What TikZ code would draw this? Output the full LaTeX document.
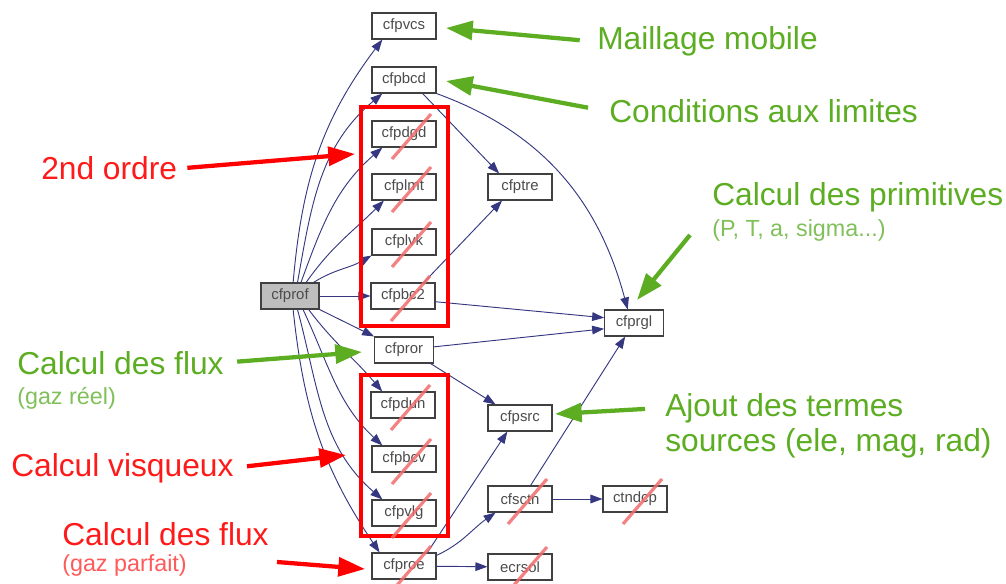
\documentclass[tikz,border=0pt]{standalone}
\usepackage{fontspec}
\setmainfont{Liberation Sans}
\usetikzlibrary{arrows.meta}
\definecolor{marine}{HTML}{1E2272}
\definecolor{vert}{HTML}{5CAD22}
\definecolor{vertclair}{HTML}{80C05A}
\definecolor{rouge}{HTML}{FF1A1A}
\definecolor{rougeclair}{HTML}{FF5A5A}
\definecolor{rayure}{HTML}{F36C6C}
\definecolor{grisfond}{HTML}{BEBEBE}
\newcommand{\barrer}[1]{\draw[rayure,line width=2.4pt,opacity=.85] ([shift={(-12,25)}]#1.center)--([shift={(27,-20)}]#1.center);}

\begin{document}
\begin{tikzpicture}[x=.75pt,y=-.75pt,>={Triangle[length=9pt,width=6.5pt]},
  boite/.style={draw=black!75,line width=.8pt,fill=white,text=black!70,font=\fontsize{11.2}{12}\selectfont,minimum width=48pt,minimum height=19.5pt,inner sep=2pt},
  lien/.style={marine!90,line width=.7pt,->},
  titre/.style={anchor=base west,inner sep=0pt,font=\fontsize{23.8}{28}\selectfont},
  soustitre/.style={anchor=base west,inner sep=0pt,font=\fontsize{17.5}{21}\selectfont},
  fleche/.style={line width=3.2pt,-{Triangle[length=20pt,width=14pt]}}]
 \useasboundingbox (0,0) rectangle (1006,584);
 \node[boite,fill=grisfond,minimum width=43.5pt] (cfprof) at (290,296) {cfprof};
 \node[boite] (cfpvcs) at (404,26) {cfpvcs};
 \node[boite] (cfpbcd) at (404,80) {cfpbcd};
 \node[boite] (cfpdgd) at (404,134) {cfpdgd};
 \node[boite] (cfplmt) at (404,187) {cfplmt};
 \node[boite] (cfplvk) at (404,242) {cfplvk};
 \node[boite] (cfpbc2) at (403,296) {cfpbc2};
 \node[boite,minimum width=44pt] (cfpror) at (404,350) {cfpror};
 \node[boite] (cfpdun) at (403,405) {cfpdun};
 \node[boite] (cfpbcv) at (404,459) {cfpbcv};
 \node[boite] (cfpvlg) at (404,513) {cfpvlg};
 \node[boite] (cfproe) at (404,566) {cfproe};
 \node[boite] (cfptre) at (520,187) {cfptre};
 \node[boite] (cfpsrc) at (520,418) {cfpsrc};
 \node[boite] (cfsctn) at (520,499) {cfsctn};
 \node[boite] (ecrsol) at (520,567) {ecrsol};
 \node[boite,minimum width=44pt] (cfprgl) at (634,323) {cfprgl};
 \node[boite] (ctndcp) at (635,499) {ctndcp};
 % appels
 \draw[lien] (cfprof.77) to[out=85,in=233] (cfpvcs.212);
 \draw[lien] (cfprof.61) to[out=80,in=220] (cfpbcd.212);
 \draw[lien] (cfprof.51) to[out=70,in=221] (cfpdgd.212);
 \draw[lien] (cfprof.40) to[out=55,in=225] (cfplmt.214);
 \draw[lien] (cfprof.30) to[out=32,in=210] (cfplvk.south west);
 \draw[lien] (cfprof) -- (cfpbc2);
 \draw[lien] (cfprof.south east) -- (cfpror.north west);
 \draw[lien] (cfprof.-36) to[out=-53,in=130] (cfpdun.147);
 \draw[lien] (cfprof.-46) to[out=-65,in=137] (cfpbcv.148);
 \draw[lien] (cfprof.-61) to[out=-75,in=139] (cfpvlg.148);
 \draw[lien] (cfprof.-77) to[out=-84,in=124] (cfproe.151);
 \draw[lien] (cfpbcd.324) -- (cfptre.147);
 \draw[lien] (cfpbcd.south east) to[out=-20,in=105] (cfprgl.115);
 \draw[lien] (cfpbc2.33) -- (cfptre.217);
 \draw[lien] (cfpbc2.-10) -- (cfprgl.170);
 \draw[lien] (cfpror.6) -- (cfprgl.191);
 \draw[lien] (cfpror.333) -- (cfpsrc.151);
 \draw[lien] (cfproe.30) -- (cfpsrc.227);
 \draw[lien] (cfproe.18) to[out=25,in=215] (cfsctn.209);
 \draw[lien] (cfproe) -- (ecrsol);
 \draw[lien] (cfsctn.52) -- (cfprgl.237);
 \draw[lien] (cfsctn) -- (ctndcp);
 % cadres et routines barrees
 \draw[red,line width=3pt] (361,107) rectangle (448,326);
 \draw[red,line width=3pt] (361,375) rectangle (448,536);
 \foreach \n in {cfpdgd,cfplmt,cfplvk,cfpbc2,cfpdun,cfpbcv,cfpvlg,cfproe,cfsctn,ctndcp,ecrsol} {\barrer{\n}}
 % commentaires
 \node[titre,text=vert] (maillage) at (597,50) {Maillage mobile};
 \node[titre,text=vert] (conditions) at (609,123) {Conditions aux limites};
 \node[titre,text=vert] (primitives) at (712,206) {Calcul des primitives};
 \node[soustitre,text=vertclair] (primsub) at (712,237) {(P, T, a, sigma...)};
 \node[titre,text=vert] (fluxreel) at (17,374) {Calcul des flux};
 \node[soustitre,text=vertclair] (gazreel) at (17,404) {(gaz réel)};
 \node[titre,text=vert] (ajout) at (665,416) {Ajout des termes};
 \node[titre,text=vert] (sources) at (665,451) {sources (ele, mag, rad)};
 \node[titre,text=rouge] (ordre) at (41,180) {2nd ordre};
 \node[titre,text=rouge] (visqueux) at (11,476) {Calcul visqueux};
 \node[titre,text=rouge] (fluxparf) at (62,545) {Calcul des flux};
 \node[soustitre,text=rougeclair] (gazparf) at (62,571) {(gaz parfait)};
 \coordinate (pMaillage) at (446,28);
 \coordinate (pConditions) at (446,81);
 \coordinate (qPrim) at (690,235);
 \coordinate (pPrim) at (637,300);
 \coordinate (pFluxReel) at (362,352);
 \coordinate (pAjout) at (555,414);
 \coordinate (pOrdre) at (355,154);
 \coordinate (pVisqueux) at (346,455);
 \coordinate (qFluxParf) at (277,562);
 \coordinate (pFluxParf) at (365,569);
 \draw[fleche,vert,shorten <=13pt] (maillage.west) -- (pMaillage);
 \draw[fleche,vert,shorten <=16pt] (conditions.west) -- (pConditions);
 \draw[fleche,vert] (qPrim) -- (pPrim);
 \draw[fleche,vert,shorten <=10pt] (fluxreel.east) -- (pFluxReel);
 \draw[fleche,vert,shorten <=15pt] (ajout.west) -- (pAjout);
 \draw[fleche,red,shorten <=7.5pt] (ordre.east) -- (pOrdre);
 \draw[fleche,red,shorten <=10pt] (visqueux.east) -- (pVisqueux);
 \draw[fleche,red] (qFluxParf) -- (pFluxParf);
\end{tikzpicture}
\end{document}
